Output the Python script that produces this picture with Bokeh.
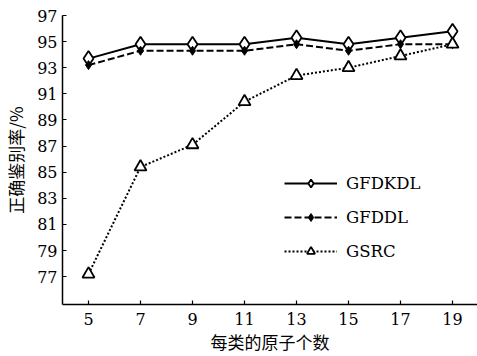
from bokeh.plotting import figure
from bokeh.models import Legend, LegendItem, FixedTicker
from bokeh.embed import file_html
from bokeh.resources import INLINE

atoms = [5, 7, 9, 11, 13, 15, 17, 19]
gfdkdl = [93.7, 94.8, 94.8, 94.8, 95.3, 94.8, 95.3, 95.8]
gfddl = [93.2, 94.3, 94.3, 94.3, 94.8, 94.3, 94.8, 94.8]
gsrc = [77.2, 85.4, 87.1, 90.4, 92.4, 93.0, 93.9, 94.8]
x_ticks = [5, 7, 9, 11, 13, 15, 17, 19]
y_ticks = [77, 79, 81, 83, 85, 87, 89, 91, 93, 95, 97]
x_title = "每类的原子个数"
y_title = "正确鉴别率/%"

SERIF = "DejaVu Serif"
CJK = "Noto Sans CJK SC"

p = figure(width=477, height=356, output_backend="svg", toolbar_location=None,
           x_range=(4, 19.96), y_range=(74.87, 97),
           min_border_left=62, min_border_top=15, min_border_bottom=50, min_border_right=0)
p.outline_line_color = None
p.grid.visible = False
p.background_fill_color = "white"

for ax in (p.xaxis[0], p.yaxis[0]):
    ax.major_tick_in = 4
    ax.major_tick_out = 0
    ax.minor_tick_in = 0
    ax.minor_tick_out = 0
    ax.axis_line_color = "black"
    ax.axis_line_width = 1.5
    ax.major_tick_line_width = 1.2
    ax.major_label_text_font = SERIF
    ax.major_label_text_font_size = "16px"
    ax.major_label_text_color = "black"
    ax.axis_label_text_font = CJK
    ax.axis_label_text_font_style = "normal"
    ax.axis_label_text_font_size = "17px"
    ax.axis_label_text_color = "black"

p.xaxis.ticker = FixedTicker(ticks=x_ticks)
p.yaxis.ticker = FixedTicker(ticks=y_ticks)
p.xaxis.major_label_standoff = 8
p.yaxis.major_label_standoff = 5
p.xaxis.axis_label = x_title
p.yaxis.axis_label = y_title
p.xaxis.axis_label_standoff = 1
p.yaxis.axis_label_standoff = 6

l1 = p.line(atoms, gfdkdl, line_color="black", line_width=2)
m1 = p.scatter(atoms, gfdkdl, marker="diamond", size=15, fill_color="white", line_color="black", line_width=1.8)
l2 = p.line(atoms, gfddl, line_color="black", line_width=2, line_dash="7 3")
m2 = p.scatter(atoms, gfddl, marker="diamond", size=9, fill_color="black", line_color="black")
l3 = p.line(atoms, gsrc, line_color="black", line_width=2, line_dash="2 2")
m3 = p.scatter(atoms, gsrc, marker="triangle", size=12, fill_color="white", line_color="black", line_width=1.8)

legend = Legend(items=[
    LegendItem(label="GFDKDL", renderers=[l1, m1]),
    LegendItem(label="GFDDL", renderers=[l2, m2]),
    LegendItem(label="GSRC", renderers=[l3, m3]),
], location=(222, 43))
legend.border_line_color = None
legend.background_fill_alpha = 0
legend.label_text_font = SERIF
legend.label_text_font_size = "16.5px"
legend.label_text_color = "black"
legend.glyph_width = 53
legend.glyph_height = 20
legend.label_standoff = 9
legend.spacing = 14
legend.padding = 0
legend.margin = 0
p.add_layout(legend, "center")

open("out.html", "w").write(file_html(p, INLINE))
